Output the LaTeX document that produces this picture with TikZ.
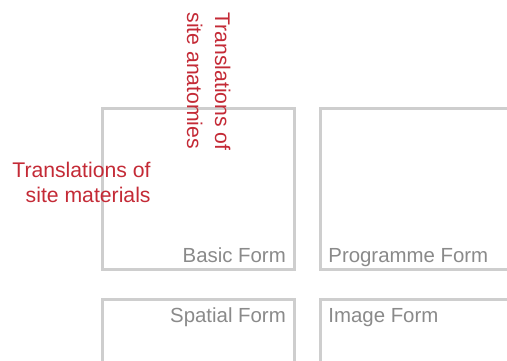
\documentclass[tikz,border=0pt]{standalone}
\usepackage{fontspec}
\setmainfont{Liberation Sans}
\usetikzlibrary{positioning,calc}
\definecolor{FrameGrey}{RGB}{206,206,206}
\definecolor{LabelGrey}{RGB}{138,138,138}
\definecolor{SiteRed}{RGB}{196,42,54}
\tikzset{
  formbox/.style={draw=FrameGrey,line width=1.6pt,minimum width=96pt,minimum height=80.5pt,inner sep=0pt,anchor=north west},
  formlabel/.style={text=LabelGrey,font=\fontsize{10.2}{12}\selectfont,inner sep=0pt},
  sitelabel/.style={text=SiteRed,font=\fontsize{10.6}{12.5}\selectfont,inner sep=0pt}
}
\begin{document}
\begin{tikzpicture}[x=0.5pt,y=0.5pt]
  \fill[white] (0,0) rectangle (507,360);
  \useasboundingbox (0,0) rectangle (507,360);
  \clip (0,0) rectangle (507,360);
  % the four form frames
  \node[formbox] (basic) at (101,253) {};
  \node[formbox,minimum width=100pt] (programme) at (319,253) {};
  \node[formbox] (spatial) at (101,62) {};
  \node[formbox,minimum width=100pt] (image) at (319,62) {};
  % frame captions
  \node[formlabel,anchor=base east] (basiclbl) at ($(basic.south east)+(-10,9)$) {Basic Form};
  \node[formlabel,anchor=base west] (programmelbl) at ($(programme.south west)+(9,9)$) {Programme Form};
  \node[formlabel,anchor=base east] (spatiallbl) at ($(spatial.north east)+(-10,-24)$) {Spatial Form};
  \node[formlabel,anchor=base west] (imagelbl) at ($(image.north west)+(9,-24)$) {Image Form};
  % translations
  \node[sitelabel,align=right,anchor=north east] (materials) at (151,198) {Translations of\\site materials};
  \node[sitelabel,font=\fontsize{10.6}{14}\selectfont,align=left,rotate=-90,anchor=north west] (anatomies) at (231,348) {Translations of\\site anatomies};
\end{tikzpicture}
\end{document}
